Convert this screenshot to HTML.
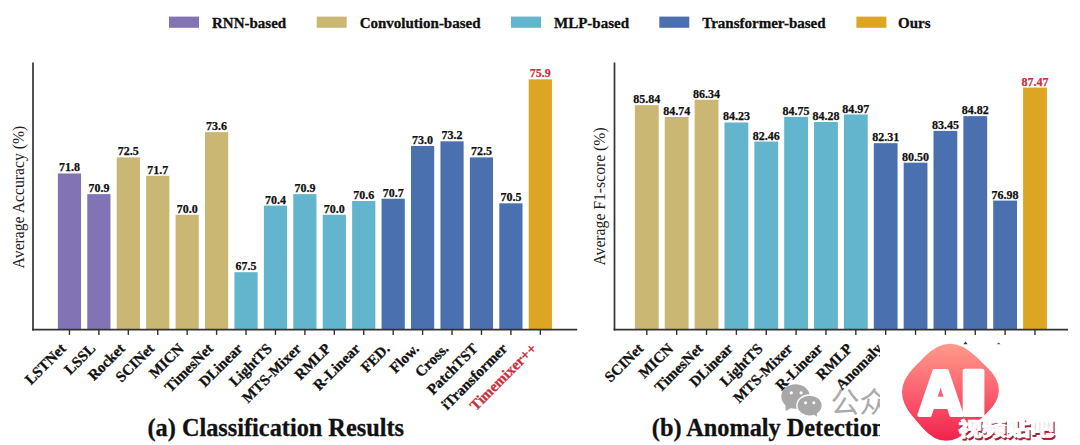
<!DOCTYPE html>
<html><head><meta charset="utf-8"><title>TimeMixer++ results</title>
<style>html,body{margin:0;padding:0;background:#fff;width:1080px;height:445px;overflow:hidden} svg{display:block}</style>
</head><body>
<svg width="1080" height="445" viewBox="0 0 1080 445">
<style>
text { font-family: "Liberation Serif", "Times New Roman", serif; }
.v { font-size: 12px; font-weight: bold; text-anchor: middle; stroke-width: 0.25px; }
.xl { font-size: 15px; font-weight: bold; text-anchor: end; stroke-width: 0.3px; }
.lg { font-size: 15px; font-weight: bold; fill: #111; stroke: #111; stroke-width: 0.3px; }
.yl { font-size: 15.7px; fill: #222; text-anchor: middle; }
.tt { font-size: 24.3px; font-weight: bold; fill: #111; stroke: #111; stroke-width: 0.3px; }
.gz { font-family: "Noto Sans CJK SC", sans-serif; font-weight: 400; font-size: 29px; fill: #aaaaaa; }
.ai { font-family: "DejaVu Sans", sans-serif; font-weight: bold; font-size: 60px; fill: #fff; stroke: #fff; stroke-width: 4; stroke-linejoin: round; }
.vt { font-family: "Liberation Sans", "Noto Sans CJK SC", sans-serif; font-weight: 900; font-size: 24px; }
</style>
<rect width="1080" height="445" fill="#fff"/>
<rect x="169.0" y="16.6" width="30" height="11.2" fill="#8274b4"/>
<text x="212.0" y="28" class="lg">RNN-based</text>
<rect x="316.7" y="16.6" width="30" height="11.2" fill="#cab773"/>
<text x="359.7" y="28" class="lg">Convolution-based</text>
<rect x="511.0" y="16.6" width="30" height="11.2" fill="#62b5cc"/>
<text x="554.0" y="28" class="lg">MLP-based</text>
<rect x="659.3" y="16.6" width="30" height="11.2" fill="#4b70af"/>
<text x="702.3" y="28" class="lg">Transformer-based</text>
<rect x="856.4" y="16.6" width="30" height="11.2" fill="#dca623"/>
<text x="898.0" y="28" class="lg">Ours</text>
<rect x="57.85" y="173.47" width="23.20" height="156.13" fill="#8274b4"/>
<text x="69.45" y="171.47" class="v" fill="#111" stroke="#111">71.8</text>
<rect x="87.28" y="194.14" width="23.20" height="135.46" fill="#8274b4"/>
<text x="98.88" y="192.14" class="v" fill="#111" stroke="#111">70.9</text>
<rect x="116.71" y="157.40" width="23.20" height="172.20" fill="#cab773"/>
<text x="128.31" y="155.40" class="v" fill="#111" stroke="#111">72.5</text>
<rect x="146.14" y="175.77" width="23.20" height="153.83" fill="#cab773"/>
<text x="157.74" y="173.77" class="v" fill="#111" stroke="#111">71.7</text>
<rect x="175.57" y="214.80" width="23.20" height="114.80" fill="#cab773"/>
<text x="187.17" y="212.80" class="v" fill="#111" stroke="#111">70.0</text>
<rect x="205.00" y="132.14" width="23.20" height="197.46" fill="#cab773"/>
<text x="216.60" y="130.14" class="v" fill="#111" stroke="#111">73.6</text>
<rect x="234.43" y="272.20" width="23.20" height="57.40" fill="#62b5cc"/>
<text x="246.03" y="270.20" class="v" fill="#111" stroke="#111">67.5</text>
<rect x="263.86" y="205.62" width="23.20" height="123.98" fill="#62b5cc"/>
<text x="275.46" y="203.62" class="v" fill="#111" stroke="#111">70.4</text>
<rect x="293.29" y="194.14" width="23.20" height="135.46" fill="#62b5cc"/>
<text x="304.89" y="192.14" class="v" fill="#111" stroke="#111">70.9</text>
<rect x="322.72" y="214.80" width="23.20" height="114.80" fill="#62b5cc"/>
<text x="334.32" y="212.80" class="v" fill="#111" stroke="#111">70.0</text>
<rect x="352.15" y="201.02" width="23.20" height="128.58" fill="#62b5cc"/>
<text x="363.75" y="199.02" class="v" fill="#111" stroke="#111">70.6</text>
<rect x="381.58" y="198.73" width="23.20" height="130.87" fill="#4b70af"/>
<text x="393.18" y="196.73" class="v" fill="#111" stroke="#111">70.7</text>
<rect x="411.01" y="145.92" width="23.20" height="183.68" fill="#4b70af"/>
<text x="422.61" y="143.92" class="v" fill="#111" stroke="#111">73.0</text>
<rect x="440.44" y="141.33" width="23.20" height="188.27" fill="#4b70af"/>
<text x="452.04" y="139.33" class="v" fill="#111" stroke="#111">73.2</text>
<rect x="469.87" y="157.40" width="23.20" height="172.20" fill="#4b70af"/>
<text x="481.47" y="155.40" class="v" fill="#111" stroke="#111">72.5</text>
<rect x="499.30" y="203.32" width="23.20" height="126.28" fill="#4b70af"/>
<text x="510.90" y="201.32" class="v" fill="#111" stroke="#111">70.5</text>
<rect x="528.73" y="79.34" width="23.20" height="250.26" fill="#dca623"/>
<text x="540.33" y="77.34" class="v" fill="#c8303e" stroke="#c8303e">75.9</text>
<line x1="33.0" y1="62.5" x2="33.0" y2="330.45000000000005" stroke="#333333" stroke-width="1.7"/>
<line x1="32.15" y1="329.6" x2="577.2" y2="329.6" stroke="#333333" stroke-width="1.7"/>
<line x1="69.45" y1="329.6" x2="69.45" y2="334.90000000000003" stroke="#333333" stroke-width="1.4"/>
<line x1="98.88" y1="329.6" x2="98.88" y2="334.90000000000003" stroke="#333333" stroke-width="1.4"/>
<line x1="128.31" y1="329.6" x2="128.31" y2="334.90000000000003" stroke="#333333" stroke-width="1.4"/>
<line x1="157.74" y1="329.6" x2="157.74" y2="334.90000000000003" stroke="#333333" stroke-width="1.4"/>
<line x1="187.17" y1="329.6" x2="187.17" y2="334.90000000000003" stroke="#333333" stroke-width="1.4"/>
<line x1="216.60" y1="329.6" x2="216.60" y2="334.90000000000003" stroke="#333333" stroke-width="1.4"/>
<line x1="246.03" y1="329.6" x2="246.03" y2="334.90000000000003" stroke="#333333" stroke-width="1.4"/>
<line x1="275.46" y1="329.6" x2="275.46" y2="334.90000000000003" stroke="#333333" stroke-width="1.4"/>
<line x1="304.89" y1="329.6" x2="304.89" y2="334.90000000000003" stroke="#333333" stroke-width="1.4"/>
<line x1="334.32" y1="329.6" x2="334.32" y2="334.90000000000003" stroke="#333333" stroke-width="1.4"/>
<line x1="363.75" y1="329.6" x2="363.75" y2="334.90000000000003" stroke="#333333" stroke-width="1.4"/>
<line x1="393.18" y1="329.6" x2="393.18" y2="334.90000000000003" stroke="#333333" stroke-width="1.4"/>
<line x1="422.61" y1="329.6" x2="422.61" y2="334.90000000000003" stroke="#333333" stroke-width="1.4"/>
<line x1="452.04" y1="329.6" x2="452.04" y2="334.90000000000003" stroke="#333333" stroke-width="1.4"/>
<line x1="481.47" y1="329.6" x2="481.47" y2="334.90000000000003" stroke="#333333" stroke-width="1.4"/>
<line x1="510.90" y1="329.6" x2="510.90" y2="334.90000000000003" stroke="#333333" stroke-width="1.4"/>
<line x1="540.33" y1="329.6" x2="540.33" y2="334.90000000000003" stroke="#333333" stroke-width="1.4"/>
<text x="66.85" y="349.50" class="xl" fill="#111" stroke="#111" transform="rotate(-45 66.85 349.50)">LSTNet</text>
<text x="96.28" y="349.50" class="xl" fill="#111" stroke="#111" transform="rotate(-45 96.28 349.50)">LSSL</text>
<text x="125.71" y="349.50" class="xl" fill="#111" stroke="#111" transform="rotate(-45 125.71 349.50)">Rocket</text>
<text x="155.14" y="349.50" class="xl" fill="#111" stroke="#111" transform="rotate(-45 155.14 349.50)">SCINet</text>
<text x="184.57" y="349.50" class="xl" fill="#111" stroke="#111" transform="rotate(-45 184.57 349.50)">MICN</text>
<text x="214.00" y="349.50" class="xl" fill="#111" stroke="#111" transform="rotate(-45 214.00 349.50)">TimesNet</text>
<text x="243.43" y="349.50" class="xl" fill="#111" stroke="#111" transform="rotate(-45 243.43 349.50)">DLinear</text>
<text x="272.86" y="349.50" class="xl" fill="#111" stroke="#111" transform="rotate(-45 272.86 349.50)">LightTS</text>
<text x="302.29" y="349.50" class="xl" fill="#111" stroke="#111" transform="rotate(-45 302.29 349.50)">MTS-Mixer</text>
<text x="331.72" y="349.50" class="xl" fill="#111" stroke="#111" transform="rotate(-45 331.72 349.50)">RMLP</text>
<text x="361.15" y="349.50" class="xl" fill="#111" stroke="#111" transform="rotate(-45 361.15 349.50)">R-Linear</text>
<text x="390.58" y="349.50" class="xl" fill="#111" stroke="#111" transform="rotate(-45 390.58 349.50)">FED.</text>
<text x="420.01" y="349.50" class="xl" fill="#111" stroke="#111" transform="rotate(-45 420.01 349.50)">Flow.</text>
<text x="449.44" y="349.50" class="xl" fill="#111" stroke="#111" transform="rotate(-45 449.44 349.50)">Cross.</text>
<text x="478.87" y="349.50" class="xl" fill="#111" stroke="#111" transform="rotate(-45 478.87 349.50)">PatchTST</text>
<text x="508.30" y="349.50" class="xl" fill="#111" stroke="#111" transform="rotate(-45 508.30 349.50)">iTransformer</text>
<text x="537.73" y="349.50" class="xl" fill="#c8303e" stroke="#c8303e" transform="rotate(-45 537.73 349.50)">Timemixer++</text>
<rect x="634.90" y="105.15" width="23.80" height="224.45" fill="#cab773"/>
<text x="646.80" y="103.15" class="v" fill="#111" stroke="#111">85.84</text>
<rect x="664.76" y="117.00" width="23.80" height="212.60" fill="#cab773"/>
<text x="676.66" y="115.00" class="v" fill="#111" stroke="#111">84.74</text>
<rect x="694.62" y="99.77" width="23.80" height="229.83" fill="#cab773"/>
<text x="706.52" y="97.77" class="v" fill="#111" stroke="#111">86.34</text>
<rect x="724.48" y="122.49" width="23.80" height="207.11" fill="#62b5cc"/>
<text x="736.38" y="120.49" class="v" fill="#111" stroke="#111">84.23</text>
<rect x="754.34" y="141.56" width="23.80" height="188.04" fill="#62b5cc"/>
<text x="766.24" y="139.56" class="v" fill="#111" stroke="#111">82.46</text>
<rect x="784.20" y="116.89" width="23.80" height="212.71" fill="#62b5cc"/>
<text x="796.10" y="114.89" class="v" fill="#111" stroke="#111">84.75</text>
<rect x="814.06" y="121.95" width="23.80" height="207.65" fill="#62b5cc"/>
<text x="825.96" y="119.95" class="v" fill="#111" stroke="#111">84.28</text>
<rect x="843.92" y="114.52" width="23.80" height="215.08" fill="#62b5cc"/>
<text x="855.82" y="112.52" class="v" fill="#111" stroke="#111">84.97</text>
<rect x="873.78" y="143.17" width="23.80" height="186.43" fill="#4b70af"/>
<text x="885.68" y="141.17" class="v" fill="#111" stroke="#111">82.31</text>
<rect x="903.64" y="162.67" width="23.80" height="166.94" fill="#4b70af"/>
<text x="915.54" y="160.67" class="v" fill="#111" stroke="#111">80.50</text>
<rect x="933.50" y="130.89" width="23.80" height="198.71" fill="#4b70af"/>
<text x="945.40" y="128.89" class="v" fill="#111" stroke="#111">83.45</text>
<rect x="963.36" y="116.14" width="23.80" height="213.46" fill="#4b70af"/>
<text x="975.26" y="114.14" class="v" fill="#111" stroke="#111">84.82</text>
<rect x="993.22" y="200.58" width="23.80" height="129.02" fill="#4b70af"/>
<text x="1005.12" y="198.58" class="v" fill="#111" stroke="#111">76.98</text>
<rect x="1023.08" y="87.60" width="23.80" height="242.00" fill="#dca623"/>
<text x="1034.98" y="85.60" class="v" fill="#c8303e" stroke="#c8303e">87.47</text>
<line x1="614.5" y1="62.5" x2="614.5" y2="330.45000000000005" stroke="#333333" stroke-width="1.7"/>
<line x1="613.65" y1="329.6" x2="1068.0" y2="329.6" stroke="#333333" stroke-width="1.7"/>
<line x1="646.80" y1="329.6" x2="646.80" y2="334.90000000000003" stroke="#333333" stroke-width="1.4"/>
<line x1="676.66" y1="329.6" x2="676.66" y2="334.90000000000003" stroke="#333333" stroke-width="1.4"/>
<line x1="706.52" y1="329.6" x2="706.52" y2="334.90000000000003" stroke="#333333" stroke-width="1.4"/>
<line x1="736.38" y1="329.6" x2="736.38" y2="334.90000000000003" stroke="#333333" stroke-width="1.4"/>
<line x1="766.24" y1="329.6" x2="766.24" y2="334.90000000000003" stroke="#333333" stroke-width="1.4"/>
<line x1="796.10" y1="329.6" x2="796.10" y2="334.90000000000003" stroke="#333333" stroke-width="1.4"/>
<line x1="825.96" y1="329.6" x2="825.96" y2="334.90000000000003" stroke="#333333" stroke-width="1.4"/>
<line x1="855.82" y1="329.6" x2="855.82" y2="334.90000000000003" stroke="#333333" stroke-width="1.4"/>
<line x1="885.68" y1="329.6" x2="885.68" y2="334.90000000000003" stroke="#333333" stroke-width="1.4"/>
<line x1="915.54" y1="329.6" x2="915.54" y2="334.90000000000003" stroke="#333333" stroke-width="1.4"/>
<line x1="945.40" y1="329.6" x2="945.40" y2="334.90000000000003" stroke="#333333" stroke-width="1.4"/>
<line x1="975.26" y1="329.6" x2="975.26" y2="334.90000000000003" stroke="#333333" stroke-width="1.4"/>
<line x1="1005.12" y1="329.6" x2="1005.12" y2="334.90000000000003" stroke="#333333" stroke-width="1.4"/>
<line x1="1034.98" y1="329.6" x2="1034.98" y2="334.90000000000003" stroke="#333333" stroke-width="1.4"/>
<text x="644.20" y="349.50" class="xl" fill="#111" stroke="#111" transform="rotate(-45 644.20 349.50)">SCINet</text>
<text x="674.06" y="349.50" class="xl" fill="#111" stroke="#111" transform="rotate(-45 674.06 349.50)">MICN</text>
<text x="703.92" y="349.50" class="xl" fill="#111" stroke="#111" transform="rotate(-45 703.92 349.50)">TimesNet</text>
<text x="733.78" y="349.50" class="xl" fill="#111" stroke="#111" transform="rotate(-45 733.78 349.50)">DLinear</text>
<text x="763.64" y="349.50" class="xl" fill="#111" stroke="#111" transform="rotate(-45 763.64 349.50)">LightTS</text>
<text x="793.50" y="349.50" class="xl" fill="#111" stroke="#111" transform="rotate(-45 793.50 349.50)">MTS-Mixer</text>
<text x="823.36" y="349.50" class="xl" fill="#111" stroke="#111" transform="rotate(-45 823.36 349.50)">R-Linear</text>
<text x="853.22" y="349.50" class="xl" fill="#111" stroke="#111" transform="rotate(-45 853.22 349.50)">RMLP</text>
<text x="883.08" y="349.50" class="xl" fill="#111" stroke="#111" transform="rotate(-45 883.08 349.50)">Anomaly</text>
<text class="yl" transform="translate(24.2 197.1) rotate(-90)">Average Accuracy (%)</text>
<text class="yl" transform="translate(605.2 196.5) rotate(-90)">Average F1-score (%)</text>
<text class="tt" x="147.5" y="435.6">(a) Classification Results</text>
<text class="tt" x="651.8" y="435.6">(b) Anomaly Detection</text>
<g fill="#a8a8a8">
<ellipse cx="795.5" cy="396.5" rx="14.2" ry="12.2"/>
<path d="M785.5,405 L785.6,411 L792,407.5 Z"/>
</g>
<ellipse cx="809.6" cy="405.6" rx="13.4" ry="11.3" fill="#fff"/>
<path d="M812,413 L817.5,417.8 L817.5,411 Z" fill="#fff" stroke="#fff" stroke-width="1.6"/>
<ellipse cx="809.6" cy="405.6" rx="12" ry="9.9" fill="#a8a8a8"/>
<path d="M812.5,413.5 L817,416.8 L816.8,411 Z" fill="#a8a8a8"/>
<circle cx="791.3" cy="392.8" r="1.6" fill="#fff"/>
<circle cx="801.1" cy="392.8" r="1.6" fill="#fff"/>
<circle cx="805.6" cy="402.8" r="1.5" fill="#fff"/>
<circle cx="813.8" cy="402.8" r="1.5" fill="#fff"/>
<text x="830.4" y="413.1" class="gz">公众号</text>
<rect x="880" y="344" width="200" height="101" fill="#fff"/>
<path d="M963.3,344.2 L965.6,341.6 L967.6,344.2 Z" fill="#333"/>
<path d="M996.5,344.2 L998.8,342.6 L1000.6,344.2 Z" fill="#555"/>
<defs><linearGradient id="lg" x1="0" y1="344" x2="0" y2="440" gradientUnits="userSpaceOnUse"><stop offset="0" stop-color="#ff9a8a"/><stop offset="0.5" stop-color="#fb6170"/><stop offset="1" stop-color="#f2224d"/></linearGradient></defs>
<path d="M925.48,355.86 Q949.50,331.80 974.25,355.11 L986.55,366.69 Q1011.30,390.00 986.57,413.33 L969.23,429.67 Q944.50,453.00 922.15,427.38 L912.75,416.62 Q890.40,391.00 914.42,366.94 Z" fill="url(#lg)"/>
<text x="0" y="0" class="ai" transform="translate(919.1 414.6) scale(0.93 1)">A</text>
<text x="0" y="0" class="ai" transform="translate(957.85 414.6) scale(1.415 1)">I</text>
<text x="0" y="0" class="vt" fill="#a81a36" stroke="#a81a36" stroke-width="0.9" transform="translate(959.5 437.5) scale(1 0.8)">视频贴吧</text>
<text x="0" y="0" class="vt" fill="#fff" stroke="#fff" stroke-width="0.9" transform="translate(958.3 435.8) scale(1 0.8)">视频贴吧</text>
</svg>
</body></html>
